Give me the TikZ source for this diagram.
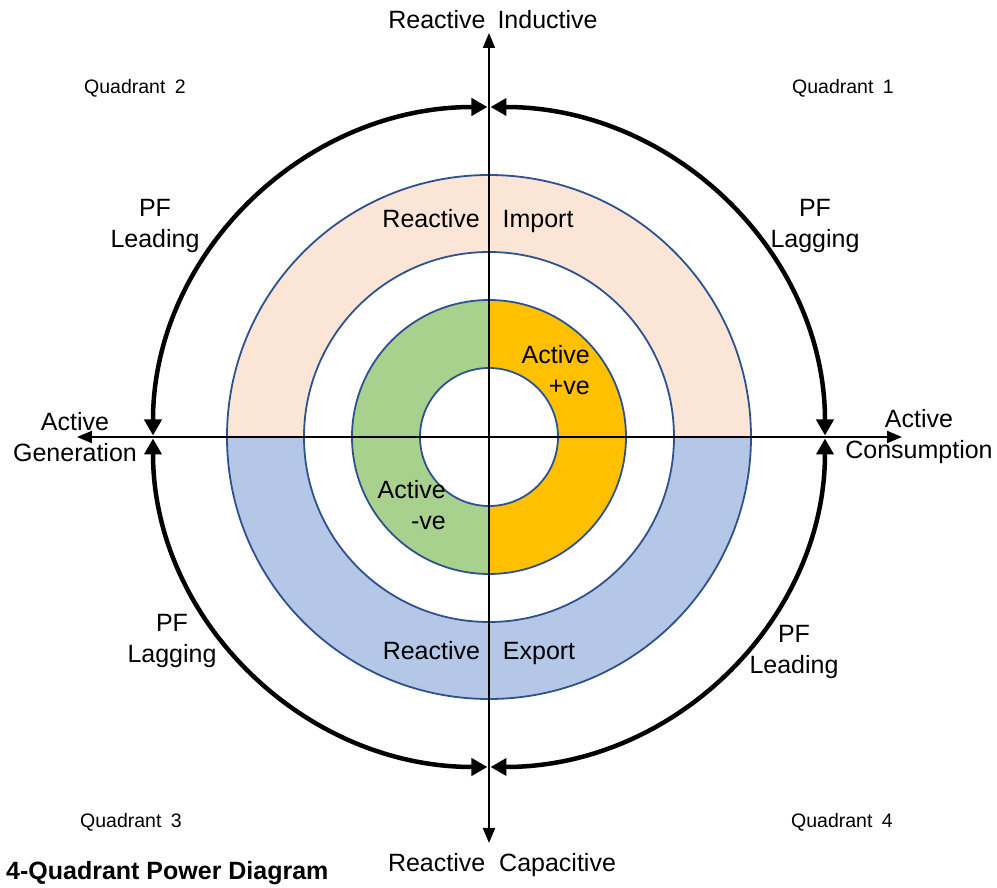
\documentclass[tikz,border=0pt]{standalone}
\usepackage{fontspec}
\setmainfont{Liberation Sans}
\usepackage{tikz}
\usetikzlibrary{arrows.meta,positioning}
\definecolor{ringline}{RGB}{47,82,143}
\definecolor{importfill}{RGB}{251,229,214}
\definecolor{exportfill}{RGB}{180,199,231}
\definecolor{posfill}{RGB}{255,192,0}
\definecolor{negfill}{RGB}{169,209,142}

\begin{document}
\begin{tikzpicture}[x=1pt, y=1pt,
    lbl/.style={font=\fontsize{25}{31}\selectfont, align=center, inner sep=0pt},
    quad/.style={font=\fontsize{19.5}{24}\selectfont, inner sep=0pt},
    ring/.style={draw=ringline, line width=1.8pt},
    axis/.style={{Triangle[length=15pt,width=12pt]}-{Triangle[length=15pt,width=12pt]}, line width=2pt},
    pfarc/.style={{Triangle[length=16pt,width=17pt]}-{Triangle[length=16pt,width=17pt]}, line width=4.5pt,
                  shorten <=1.5pt, shorten >=1.5pt}
]
    \useasboundingbox (-489,-451) rectangle (508,437);

    % reactive ring
    \draw[ring, fill=importfill] (262,0) arc[start angle=0, end angle=180, radius=262]
        -- (-185,0) arc[start angle=180, end angle=0, radius=185] -- cycle;
    \draw[ring, fill=exportfill] (262,0) arc[start angle=0, end angle=-180, radius=262]
        -- (-185,0) arc[start angle=-180, end angle=0, radius=185] -- cycle;
    % active ring
    \draw[ring, fill=posfill] (0,137) arc[start angle=90, end angle=-90, radius=137]
        -- (0,-69) arc[start angle=-90, end angle=90, radius=69] -- cycle;
    \draw[ring, fill=negfill] (0,137) arc[start angle=90, end angle=270, radius=137]
        -- (0,-69) arc[start angle=270, end angle=90, radius=69] -- cycle;

    % axes
    \coordinate (west) at (-412,0);
    \coordinate (east) at (413,0);
    \coordinate (north) at (0,404);
    \coordinate (south) at (0,-406);
    \draw[axis] (west) -- (east);
    \draw[axis] (south) -- (north);

    % power factor arcs
    \coordinate (pt) at (0,330);
    \coordinate (pr) at (336,0);
    \coordinate (pb) at (0,-330);
    \coordinate (pl) at (-336,0);
    \draw[pfarc] (pt) arc[start angle=90, end angle=0, x radius=336, y radius=330];
    \draw[pfarc] (pt) arc[start angle=90, end angle=180, x radius=336, y radius=330];
    \draw[pfarc] (pb) arc[start angle=270, end angle=180, x radius=336, y radius=330];
    \draw[pfarc] (pb) arc[start angle=270, end angle=360, x radius=336, y radius=330];

    % labels
    \node[lbl] (inductive) at (4,417) {Reactive\hspace{5pt} Inductive};
    \node[lbl] (capacitive) at (13,-428) {Reactive\hspace{7pt} Capacitive};
    \node[lbl] (gen) at (-414,0) {Active\\Generation};
    \node[lbl] (cons) at (430,0) {Active\\Consumption};

    \node[quad] (q2) at (-354,349) {Quadrant\hspace{4pt} 2};
    \node[quad] (q1) at (354,349) {Quadrant\hspace{4pt} 1};
    \node[quad] (q3) at (-358,-385) {Quadrant\hspace{4pt} 3};
    \node[quad] (q4) at (353,-385) {Quadrant\hspace{4pt} 4};

    \node[lbl] (lead2) at (-334,211) {PF\\Leading};
    \node[lbl] (lag1) at (326,211) {PF\\Lagging};
    \node[lbl] (lag3) at (-317,-204) {PF\\Lagging};
    \node[lbl] (lead4) at (305,-215) {PF\\Leading};

    \node[lbl] (import) at (-11,216) {Reactive\hspace{16pt} Import};
    \node[lbl] (export) at (-10,-216) {Reactive\hspace{16pt} Export};

    \node[lbl, align=right, anchor=east] (pos) at (101,67) {Active\\+ve};
    \node[lbl, align=right, anchor=east] (neg) at (-43,-68) {Active\\-ve};

    \node[lbl, anchor=west, font=\fontsize{25}{31}\selectfont\bfseries] (title) at (-483,-436) {4-Quadrant Power Diagram};
\end{tikzpicture}
\end{document}
